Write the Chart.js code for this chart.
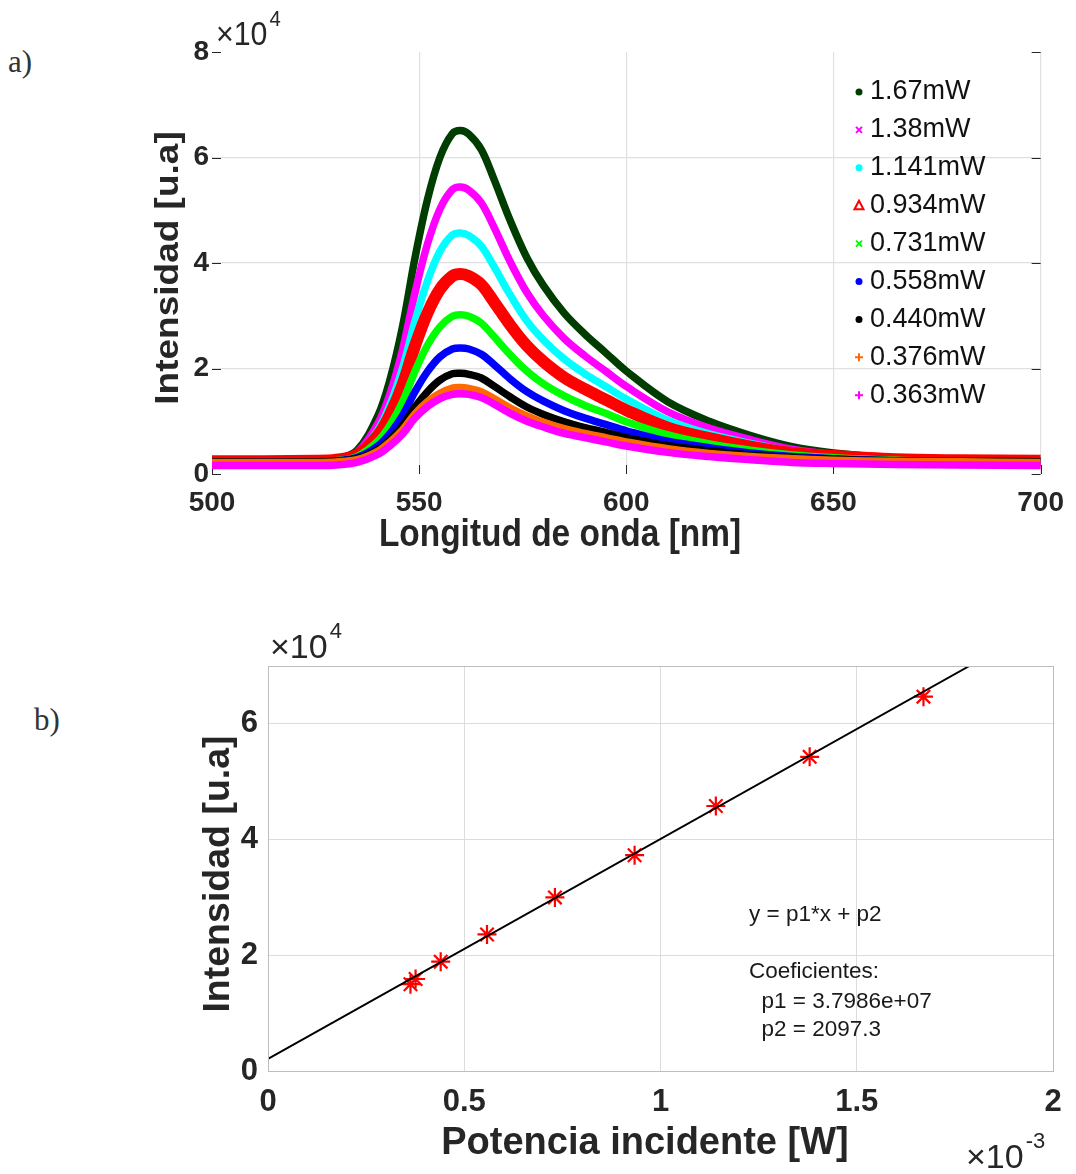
<!DOCTYPE html>
<html>
<head>
<meta charset="utf-8">
<script src="https://cdn.jsdelivr.net/npm/chart.js@4.4.1/dist/chart.umd.min.js"></script>
<style>
  html, body { margin: 0; padding: 0; background: #fff; }
  body { width: 1076px; height: 1174px; position: relative; overflow: hidden; }
  canvas { position: absolute; left: 0; }
  #spectra { top: 0; }
  #fit { top: 580px; }
  .tag { position: absolute; font-family: "Liberation Serif", "DejaVu Serif", serif; font-size: 31px; line-height: 31px; color: #333; }
</style>
</head>
<body>
<div class="tag" style="left:8px;top:46px">a)</div>
<div class="tag" style="left:34px;top:704px">b)</div>
<canvas id="spectra" width="1076" height="580"></canvas>
<canvas id="fit" width="1076" height="594"></canvas>
<script>
const FONT = "'Liberation Sans', Arial, sans-serif";
Chart.defaults.font.family = FONT;

// ---- a) emission spectra ----
const wavelength = [500, 525, 530, 535, 540, 543, 546, 549, 552, 555, 558, 560, 562, 565, 568,
                    572, 576, 580, 585, 590, 595, 600, 610, 620, 630, 640, 650, 665, 680, 700];
const int167  = [2300, 2400, 2800, 4500, 11000, 18000, 28000, 41000, 52000, 60000, 64500, 65100, 64400, 61500, 56000,
                 48000, 41000, 35700, 30500, 26500, 23000, 19500, 13700, 10000, 7300, 5200, 4000, 3000, 2600, 2400];
const int138  = [2300, 2400, 2700, 4100, 9500, 15300, 23600, 34400, 43600, 50200, 53900, 54400, 53800, 51400, 46900,
                 40200, 34400, 30000, 25700, 22400, 19500, 16600, 11800, 8700, 6500, 4700, 3700, 2900, 2500, 2400];
const int1141 = [2300, 2400, 2600, 3800, 8300, 13200, 20100, 29000, 36600, 42200, 45300, 45700, 45200, 43200, 39400,
                 33900, 29000, 25400, 21800, 19000, 16600, 14200, 10200, 7600, 5800, 4300, 3500, 2800, 2500, 2400];
const int0934 = [2400, 2500, 2700, 3600, 7300, 11300, 16900, 24300, 30500, 35000, 37500, 37900, 37500, 35900, 32700,
                 28200, 24300, 21300, 18300, 16100, 14100, 12100, 8800, 6800, 5200, 4000, 3400, 2800, 2600, 2500];
const int0731 = [2300, 2300, 2500, 3300, 6200, 9300, 13700, 19500, 24400, 27900, 29900, 30200, 29900, 28600, 26100,
                 22600, 19500, 17100, 14800, 13000, 11500, 9900, 7400, 5700, 4500, 3600, 3100, 2600, 2400, 2300];
const int0558 = [2300, 2300, 2500, 3100, 5300, 7700, 11100, 15600, 19400, 22200, 23700, 23900, 23700, 22700, 20800,
                 18000, 15600, 13800, 12000, 10600, 9400, 8200, 6200, 5000, 4000, 3300, 2900, 2500, 2400, 2300];
const int0440 = [2300, 2300, 2400, 2900, 4600, 6500, 9200, 12700, 15600, 17800, 19000, 19100, 18900, 18200, 16700,
                 14600, 12700, 11300, 9900, 8800, 7900, 6900, 5400, 4400, 3600, 3100, 2800, 2500, 2400, 2300];
const int0376 = [2200, 2200, 2300, 2700, 4300, 6100, 8400, 11400, 13700, 15300, 16300, 16400, 16200, 15600, 14300,
                 12500, 11000, 9800, 8600, 7700, 6900, 6100, 4800, 3900, 3300, 2900, 2600, 2400, 2300, 2200];
const int0363 = [1600, 1600, 1700, 2200, 3700, 5400, 7600, 10600, 12800, 14300, 15100, 15200, 15100, 14500, 13300,
                 11500, 10000, 8900, 7700, 6900, 6100, 5300, 4100, 3300, 2700, 2200, 2000, 1800, 1700, 1600];
const powerLabels = ['1.67mW', '1.38mW', '1.141mW', '0.934mW', '0.731mW', '0.558mW', '0.440mW', '0.376mW', '0.363mW'];
const spectra = [int167, int138, int1141, int0934, int0731, int0558, int0440, int0376, int0363];

// ---- b) peak intensity vs incident power ----
const powerW = [0.000363, 0.000376, 0.000440, 0.000558, 0.000731, 0.000934, 0.001141, 0.00138, 0.00167];
const peakIntensity = [15000, 15900, 18900, 23600, 30000, 37300, 45800, 54300, 64700];
const fitX = [0, 0.001787];
const fitY = [2097.3, 70000];
const fitYTicks = [0, 20000, 40000, 60000];
const fitText = ['y = p1*x + p2', 'Coeficientes:', '  p1 = 3.7986e+07', '  p2 = 2097.3'];

// styles
const curveColors = ['#003d00', '#ff00ff', '#00ffff', '#ff0000', '#00ff00', '#0000ff', '#000000', '#ff6a00', '#ff00ff'];
const curveWidths = [7.5, 7.5, 7.5, 12, 7.5, 7.5, 7.5, 7.5, 7.5];
const markerKinds = ['dot', 'x', 'dot', 'tri', 'x', 'dot', 'dot', 'plus', 'plus'];

function drawText(ctx, str, x, y, font, opt = {}) {
  ctx.save();
  ctx.translate(x, y);
  if (opt.rotate) ctx.rotate(opt.rotate);
  ctx.scale(opt.sx || 1, opt.sy || 1);
  ctx.font = font;
  ctx.fillStyle = opt.color || '#262626';
  ctx.textAlign = opt.align || 'left';
  ctx.textBaseline = opt.baseline || 'alphabetic';
  ctx.fillText(str, 0, 0);
  ctx.restore();
}

// "x10^n" multiplier like MATLAB
function drawPower(ctx, x, y, exp, size, sx) {
  ctx.save();
  ctx.font = `${size}px ${FONT}`;
  const w = ctx.measureText('×10').width * sx;
  ctx.restore();
  drawText(ctx, '×10', x, y, `${size}px ${FONT}`, { sx });
  drawText(ctx, exp, x + w + 2, y - size * 0.58, `${Math.round(size * 0.66)}px ${FONT}`, { sx });
}

function drawMarker(ctx, kind, x, y, color) {
  ctx.save();
  ctx.strokeStyle = color; ctx.fillStyle = color; ctx.lineWidth = 2;
  ctx.beginPath();
  if (kind === 'dot') {
    ctx.arc(x, y, 3.5, 0, 2 * Math.PI); ctx.fill();
  } else if (kind === 'x') {
    ctx.moveTo(x - 3, y - 3); ctx.lineTo(x + 3, y + 3);
    ctx.moveTo(x + 3, y - 3); ctx.lineTo(x - 3, y + 3); ctx.stroke();
  } else if (kind === 'tri') {
    ctx.moveTo(x, y - 5); ctx.lineTo(x + 4.5, y + 3.5); ctx.lineTo(x - 4.5, y + 3.5); ctx.closePath(); ctx.stroke();
  } else {
    ctx.moveTo(x - 4, y); ctx.lineTo(x + 4, y);
    ctx.moveTo(x, y - 4); ctx.lineTo(x, y + 4); ctx.stroke();
  }
  ctx.restore();
}

const spectraDecor = {
  id: 'spectraDecor',
  beforeDatasetsDraw(chart) {
    const { ctx, chartArea: a, scales: { x, y } } = chart;
    ctx.save();
    ctx.strokeStyle = '#262626'; ctx.lineWidth = 1;
    ctx.beginPath();
    y.ticks.forEach(t => {
      const py = Math.round(y.getPixelForValue(t.value)) + 0.5;
      ctx.moveTo(a.left, py); ctx.lineTo(a.left + 9, py);
      ctx.moveTo(a.right, py); ctx.lineTo(a.right - 9, py);
    });
    x.ticks.forEach(t => {
      const px = Math.round(x.getPixelForValue(t.value)) + 0.5;
      ctx.moveTo(px, a.bottom); ctx.lineTo(px, a.bottom - 9);
    });
    ctx.stroke();
    ctx.restore();
  },
  afterDraw(chart) {
    const ctx = chart.ctx;
    drawText(ctx, 'Longitud de onda [nm]', 560, 546, `bold 38px ${FONT}`, { align: 'center', sx: 0.88 });
    drawText(ctx, 'Intensidad [u.a]', 169, 268, `bold 37px ${FONT}`,
      { align: 'center', baseline: 'middle', rotate: -Math.PI / 2, sy: 0.88 });
    drawPower(ctx, 216, 45, '4', 33, 0.92);
    powerLabels.forEach((lab, i) => {
      const yy = 92 + i * 37.9;
      drawMarker(ctx, markerKinds[i], 859, yy, curveColors[i]);
      drawText(ctx, lab, 870, yy, `27px ${FONT}`, { baseline: 'middle', color: '#111' });
    });
  }
};

new Chart(document.getElementById('spectra'), {
  type: 'line',
  data: {
    datasets: spectra.map((arr, i) => ({
      label: powerLabels[i],
      data: wavelength.map((w, j) => ({ x: w, y: arr[j] })),
      borderColor: curveColors[i],
      borderWidth: curveWidths[i],
      borderCapStyle: 'round',
      borderJoinStyle: 'round',
      pointRadius: 0,
      tension: 0.35,
      fill: false,
      order: spectra.length - 1 - i
    }))
  },
  options: {
    responsive: false,
    animation: false,
    layout: { padding: { top: 52, right: 30, left: 0, bottom: 0 } },
    plugins: { legend: { display: false }, tooltip: { enabled: false } },
    scales: {
      x: {
        type: 'linear', min: 500, max: 700,
        ticks: { stepSize: 50, padding: 12, color: '#262626', font: { size: 28, weight: 'bold' } },
        grid: { drawTicks: false, lineWidth: 1.2,
                color: c => (c.tick && c.tick.value === 500) ? 'rgba(0,0,0,0)' : '#e0e0e0' },
        border: { display: false },
        afterFit: s => { s.height = 106; }
      },
      y: {
        min: 0, max: 80000,
        ticks: { stepSize: 20000, padding: 3, color: '#262626', font: { size: 28, weight: 'bold' },
                 callback: v => v / 1e4 },
        grid: { drawTicks: false, lineWidth: 1.2,
                color: c => (c.tick && (c.tick.value === 0 || c.tick.value === 80000)) ? 'rgba(0,0,0,0)' : '#e0e0e0' },
        border: { display: false },
        afterFit: s => { s.width = 212; }
      }
    }
  },
  plugins: [spectraDecor]
});

const fitDecor = {
  id: 'fitDecor',
  afterDraw(chart) {
    const { ctx, chartArea: a } = chart;
    ctx.save();
    ctx.strokeStyle = '#bdbdbd'; ctx.lineWidth = 1;
    ctx.strokeRect(Math.round(a.left) + 0.5, Math.round(a.top) + 0.5,
                   Math.round(a.right - a.left), Math.round(a.bottom - a.top));
    ctx.restore();
    drawText(ctx, 'Potencia incidente [W]', 645, 574, `bold 38px ${FONT}`, { align: 'center' });
    drawText(ctx, 'Intensidad [u.a]', 219, 294, `bold 37.5px ${FONT}`,
      { align: 'center', baseline: 'middle', rotate: -Math.PI / 2 });
    drawPower(ctx, 270, 78, '4', 34, 1);
    drawPower(ctx, 966, 588, '-3', 34, 1);
    const lineY = [335, 391.7, 421.7, 450];
    fitText.forEach((t, i) => {
      drawText(ctx, t, 749, lineY[i], `22.5px ${FONT}`, { baseline: 'middle', color: '#1a1a1a' });
    });
  }
};

new Chart(document.getElementById('fit'), {
  type: 'scatter',
  data: {
    datasets: [
      {
        label: 'ajuste',
        data: fitX.map((x, i) => ({ x, y: fitY[i] })),
        showLine: true,
        borderColor: '#000',
        borderWidth: 2,
        pointRadius: 0,
        order: 0
      },
      {
        label: 'datos',
        data: powerW.map((x, i) => ({ x, y: peakIntensity[i] })),
        pointStyle: 'star',
        pointRadius: 9.5,
        borderWidth: 2.2,
        borderColor: '#ff0000',
        backgroundColor: '#ff0000',
        order: 1
      }
    ]
  },
  options: {
    responsive: false,
    animation: false,
    layout: { padding: { top: 86, right: 23, left: 0, bottom: 0 } },
    plugins: { legend: { display: false }, tooltip: { enabled: false } },
    scales: {
      x: {
        type: 'linear', min: 0, max: 0.002,
        ticks: { stepSize: 0.0005, padding: 13, color: '#262626', font: { size: 31, weight: 'bold' },
                 callback: v => String(Math.round(v * 1e4) / 10) },
        grid: { drawTicks: false, color: '#dcdcdc', lineWidth: 1 },
        border: { display: false },
        afterFit: s => { s.height = 103; }
      },
      y: {
        min: 0, max: 70000,
        afterBuildTicks: s => { s.ticks = fitYTicks.map(v => ({ value: v })); },
        ticks: { padding: 10, color: '#262626', font: { size: 31, weight: 'bold' },
                 autoSkip: false, callback: v => String(v / 1e4) },
        grid: { drawTicks: false, color: '#dcdcdc', lineWidth: 1 },
        border: { display: false },
        afterFit: s => { s.width = 268; }
      }
    }
  },
  plugins: [fitDecor]
});
</script>
</body>
</html>
